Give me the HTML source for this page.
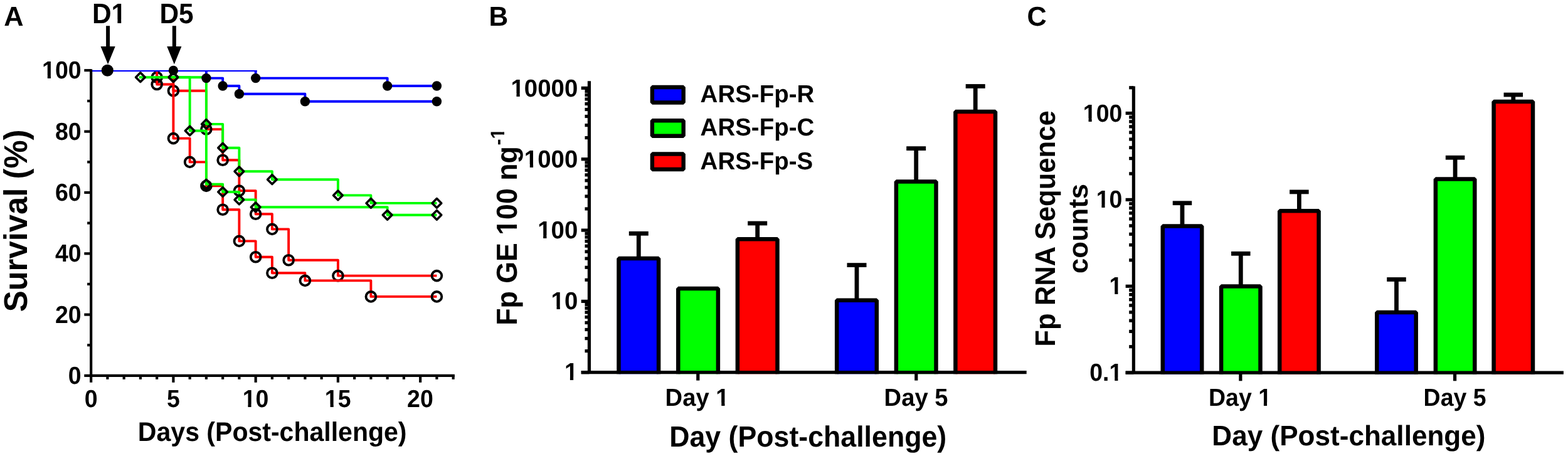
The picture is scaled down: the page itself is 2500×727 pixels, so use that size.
<!DOCTYPE html>
<html lang="en">
<head>
<meta charset="utf-8">
<title>Figure: survival curves and Fp load</title>
<style>
html,body{margin:0;padding:0;background:#fff;}
body{width:2500px;height:727px;overflow:hidden;}
svg{display:block;}
svg text{font-family:"Liberation Sans", sans-serif;font-weight:700;fill:#000;text-rendering:geometricPrecision;}
</style>
</head>
<body>
<svg width="2500" height="727" viewBox="0 0 2500 727">
<rect width="2500" height="727" fill="#fff"/>
<g id="panelA">
<clipPath id="clipA"><rect x="140" y="111.9" width="600" height="500"/></clipPath>
<g clip-path="url(#clipA)" fill="none" stroke-width="3.9" stroke-linejoin="round">
<path d="M250.15 112.15H250.15V123.2H276.4V144.8H328.9V206.1H355.15V255.2H381.4V304.1H407.65V341.3H433.9V365.4H460.15V414.8H538.9V439.6H696.4" stroke="#ff0000"/>
<circle cx="250.15" cy="123.2" r="7.9" stroke="#000" stroke-width="3.85"/>
<circle cx="276.4" cy="144.8" r="7.9" stroke="#000" stroke-width="3.85"/>
<circle cx="328.9" cy="206.1" r="7.9" stroke="#000" stroke-width="3.85"/>
<circle cx="355.15" cy="255.2" r="7.9" stroke="#000" stroke-width="3.85"/>
<circle cx="381.4" cy="304.1" r="7.9" stroke="#000" stroke-width="3.85"/>
<circle cx="407.65" cy="341.3" r="7.9" stroke="#000" stroke-width="3.85"/>
<circle cx="433.9" cy="365.4" r="7.9" stroke="#000" stroke-width="3.85"/>
<circle cx="460.15" cy="414.8" r="7.9" stroke="#000" stroke-width="3.85"/>
<circle cx="538.9" cy="439.6" r="7.9" stroke="#000" stroke-width="3.85"/>
<circle cx="696.4" cy="439.6" r="7.9" stroke="#000" stroke-width="3.85"/>
<path d="M250.15 112.15H250.15V134.5H276.4V220.6H302.65V258.4H328.9V296.4H355.15V334.2H381.4V384.4H407.65V409.8H433.9V435.3H486.4V447.4H591.4V472.9H696.4" stroke="#ff0000"/>
<circle cx="250.15" cy="134.5" r="7.9" stroke="#000" stroke-width="3.85"/>
<circle cx="276.4" cy="220.6" r="7.9" stroke="#000" stroke-width="3.85"/>
<circle cx="302.65" cy="258.4" r="7.9" stroke="#000" stroke-width="3.85"/>
<circle cx="328.9" cy="296.4" r="7.9" stroke="#000" stroke-width="3.85"/>
<circle cx="355.15" cy="334.2" r="7.9" stroke="#000" stroke-width="3.85"/>
<circle cx="381.4" cy="384.4" r="7.9" stroke="#000" stroke-width="3.85"/>
<circle cx="407.65" cy="409.8" r="7.9" stroke="#000" stroke-width="3.85"/>
<circle cx="433.9" cy="435.3" r="7.9" stroke="#000" stroke-width="3.85"/>
<circle cx="486.4" cy="447.4" r="7.9" stroke="#000" stroke-width="3.85"/>
<circle cx="591.4" cy="472.9" r="7.9" stroke="#000" stroke-width="3.85"/>
<circle cx="696.4" cy="472.9" r="7.9" stroke="#000" stroke-width="3.85"/>
<circle cx="328.9" cy="296.4" r="8" fill="#000" stroke="none"/>
<clipPath id="clipD"><path d="M328.9 288.7L333.9 293.7L328.9 298.7L323.9 293.7Z"/></clipPath>
<g clip-path="url(#clipD)"><rect x="320.9" y="285.7" width="16" height="16" fill="#fff" stroke="none"/><path d="M250.15 112.15H250.15V134.5H276.4V220.6H302.65V258.4H328.9V296.4H355.15V334.2H381.4V384.4H407.65V409.8H433.9V435.3H486.4V447.4H591.4V472.9H696.4" stroke="#ff0000"/></g>
<path d="M274.4 123.2H302.65V208.5H328.9V293.7H355.15V306.0H381.4V318.4H407.65V330.3H617.65V342.8H696.4" stroke="#00ff00"/>
<path d="M276.4 115.85000000000001L283.75 123.2L276.4 130.55L269.04999999999995 123.2Z" stroke="#000" stroke-width="3.6" stroke-linejoin="round"/>
<path d="M302.65 201.15L310.0 208.5L302.65 215.85L295.29999999999995 208.5Z" stroke="#000" stroke-width="3.6" stroke-linejoin="round"/>
<path d="M328.9 286.34999999999997L336.25 293.7L328.9 301.05L321.54999999999995 293.7Z" stroke="#000" stroke-width="3.6" stroke-linejoin="round"/>
<path d="M355.15 298.65L362.5 306.0L355.15 313.35L347.79999999999995 306.0Z" stroke="#000" stroke-width="3.6" stroke-linejoin="round"/>
<path d="M381.4 311.04999999999995L388.75 318.4L381.4 325.75L374.04999999999995 318.4Z" stroke="#000" stroke-width="3.6" stroke-linejoin="round"/>
<path d="M407.65 322.95L415.0 330.3L407.65 337.65000000000003L400.29999999999995 330.3Z" stroke="#000" stroke-width="3.6" stroke-linejoin="round"/>
<path d="M617.65 335.45L625.0 342.8L617.65 350.15000000000003L610.3 342.8Z" stroke="#000" stroke-width="3.6" stroke-linejoin="round"/>
<path d="M696.4 335.45L703.75 342.8L696.4 350.15000000000003L689.05 342.8Z" stroke="#000" stroke-width="3.6" stroke-linejoin="round"/>
<path d="M221.9 123.2H276.4H328.9V197.9H355.15V235.7H381.4V273.3H433.9V286.2H538.9V311.4H591.4V323.9H696.4" stroke="#00ff00"/>
<path d="M223.9 115.85000000000001L231.25 123.2L223.9 130.55L216.55 123.2Z" stroke="#000" stroke-width="3.6" stroke-linejoin="round"/>
<path d="M276.4 115.85000000000001L283.75 123.2L276.4 130.55L269.04999999999995 123.2Z" stroke="#000" stroke-width="3.6" stroke-linejoin="round"/>
<path d="M328.9 190.55L336.25 197.9L328.9 205.25L321.54999999999995 197.9Z" stroke="#000" stroke-width="3.6" stroke-linejoin="round"/>
<path d="M355.15 228.35L362.5 235.7L355.15 243.04999999999998L347.79999999999995 235.7Z" stroke="#000" stroke-width="3.6" stroke-linejoin="round"/>
<path d="M381.4 265.95L388.75 273.3L381.4 280.65000000000003L374.04999999999995 273.3Z" stroke="#000" stroke-width="3.6" stroke-linejoin="round"/>
<path d="M433.9 278.84999999999997L441.25 286.2L433.9 293.55L426.54999999999995 286.2Z" stroke="#000" stroke-width="3.6" stroke-linejoin="round"/>
<path d="M538.9 304.04999999999995L546.25 311.4L538.9 318.75L531.55 311.4Z" stroke="#000" stroke-width="3.6" stroke-linejoin="round"/>
<path d="M591.4 316.54999999999995L598.75 323.9L591.4 331.25L584.05 323.9Z" stroke="#000" stroke-width="3.6" stroke-linejoin="round"/>
<path d="M696.4 316.54999999999995L703.75 323.9L696.4 331.25L689.05 323.9Z" stroke="#000" stroke-width="3.6" stroke-linejoin="round"/>
<rect x="145.15" y="111.9" width="264.5" height="2.25" fill="#0000ff" stroke="none"/>
<path d="M407.65 112.15H407.65V124.6H617.65V137.0H696.4" stroke="#0000ff"/>
<path d="M328.9 112.15H328.9V124.6H355.15V137.0H381.4V149.7H486.4V161.8H696.4" stroke="#0000ff"/>
</g>
<circle cx="407.65" cy="124.6" r="7.7" fill="#000"/>
<circle cx="617.65" cy="137.0" r="7.7" fill="#000"/>
<circle cx="696.4" cy="137.0" r="7.7" fill="#000"/>
<circle cx="328.9" cy="124.6" r="7.7" fill="#000"/>
<circle cx="355.15" cy="137.0" r="7.7" fill="#000"/>
<circle cx="381.4" cy="149.7" r="7.7" fill="#000"/>
<circle cx="486.4" cy="161.8" r="7.7" fill="#000"/>
<circle cx="696.4" cy="161.8" r="7.7" fill="#000"/>
<circle cx="171.3" cy="112.3" r="9.55" fill="#000"/>
<circle cx="276.4" cy="112.5" r="7.7" fill="#000"/>
<g stroke="#000" stroke-width="4.17" fill="none">
<path d="M145.15 110.25V609.8"/>
<path d="M134.3 598.9H724.9"/>
<path d="M139.1 550.25H145.15"/>
<path d="M134.3 501.59H145.15"/>
<path d="M139.1 452.93H145.15"/>
<path d="M134.3 404.28H145.15"/>
<path d="M139.1 355.62H145.15"/>
<path d="M134.3 306.97H145.15"/>
<path d="M139.1 258.31H145.15"/>
<path d="M134.3 209.66H145.15"/>
<path d="M139.1 161.0H145.15"/>
<path d="M134.3 112.14999999999999H145.15"/>
<path d="M171.4 598.9V604.8"/>
<path d="M197.65 598.9V604.8"/>
<path d="M223.9 598.9V604.8"/>
<path d="M250.15 598.9V604.8"/>
<path d="M276.4 598.9V609.8"/>
<path d="M302.65 598.9V604.8"/>
<path d="M328.9 598.9V604.8"/>
<path d="M355.15 598.9V604.8"/>
<path d="M381.4 598.9V604.8"/>
<path d="M407.65 598.9V609.8"/>
<path d="M433.9 598.9V604.8"/>
<path d="M460.15 598.9V604.8"/>
<path d="M486.4 598.9V604.8"/>
<path d="M512.65 598.9V604.8"/>
<path d="M538.9 598.9V609.8"/>
<path d="M565.15 598.9V604.8"/>
<path d="M591.4 598.9V604.8"/>
<path d="M617.65 598.9V604.8"/>
<path d="M643.9 598.9V604.8"/>
<path d="M670.15 598.9V609.8"/>
<path d="M696.4 598.9V604.8"/>
<path d="M722.65 598.9V604.8"/>
</g>
<g transform="translate(129.6 612.3) scale(1.0 1.045)"><text font-size="37.5" text-anchor="end">0</text></g>
<g transform="translate(129.6 514.86) scale(1.0 1.045)"><text font-size="37.5" text-anchor="end">20</text></g>
<g transform="translate(129.6 417.42) scale(1.0 1.045)"><text font-size="37.5" text-anchor="end">40</text></g>
<g transform="translate(129.6 319.98) scale(1.0 1.045)"><text font-size="37.5" text-anchor="end">60</text></g>
<g transform="translate(129.6 222.54) scale(1.0 1.045)"><text font-size="37.5" text-anchor="end">80</text></g>
<g transform="translate(129.6 125.1) scale(1.0 1.045)"><text font-size="37.5" text-anchor="end">100</text><rect x="-61.82" y="-4.63" width="7.99" height="6.03" fill="#fff"/><rect x="-48.68" y="-4.63" width="7.51" height="6.03" fill="#fff"/></g>
<g transform="translate(145.1 649.3) scale(1.0 1.045)"><text font-size="37.5" text-anchor="middle">0</text></g>
<g transform="translate(276.3 649.3) scale(1.0 1.045)"><text font-size="37.5" text-anchor="middle">5</text></g>
<g transform="translate(407.5 649.3) scale(1.0 1.045)"><text font-size="37.5" text-anchor="middle">10</text><rect x="-20.10" y="-4.63" width="7.99" height="6.03" fill="#fff"/><rect x="-6.96" y="-4.63" width="7.51" height="6.03" fill="#fff"/></g>
<g transform="translate(538.7 649.3) scale(1.0 1.045)"><text font-size="37.5" text-anchor="middle">15</text><rect x="-20.10" y="-4.63" width="7.99" height="6.03" fill="#fff"/><rect x="-6.96" y="-4.63" width="7.51" height="6.03" fill="#fff"/></g>
<g transform="translate(669.9 649.3) scale(1.0 1.045)"><text font-size="37.5" text-anchor="middle">20</text></g>
<g transform="translate(434.2 702.8) scale(0.985 1.025)"><text font-size="41.67" text-anchor="middle">Days (Post-challenge)</text></g>
<g transform="translate(42.9 351.9) rotate(-90) scale(1.0 1.03)"><text font-size="50.8" text-anchor="middle">Survival (%)</text></g>
<g transform="translate(6.2 41.0) scale(1.04 1.043)"><text font-size="41.67">A</text></g>
<g transform="translate(174.0 37.0) scale(1.0 1.06)"><text font-size="42.4" text-anchor="middle">D1</text><rect x="4.58" y="-5.13" width="8.83" height="6.53" fill="#fff"/><rect x="19.22" y="-5.13" width="8.29" height="6.53" fill="#fff"/></g>
<g transform="translate(281.6 37.0) scale(1.0 1.06)"><text font-size="42.4" text-anchor="middle">D5</text></g>
<path d="M169.1 41.3H175.1V74H183.7L172.1 102.6L160.5 74H169.1Z" fill="#000"/>
<path d="M274.8 41.3H280.8V74H289.40000000000003L277.8 102.6L266.2 74H274.8Z" fill="#000"/>
</g>
<g id="panelB">
<path d="M1018.3 411.9V372.25" stroke="#000" stroke-width="6.8" fill="none"/>
<rect x="1002.8" y="368.85" width="31.0" height="6.8" fill="#000"/>
<path d="M986.5 596.3V411.9H1050.1V596.3" fill="#0000ff" stroke="#000" stroke-width="6.5" stroke-linejoin="bevel"/>
<path d="M1081.3 596.3V459.9H1144.9V596.3" fill="#00ff00" stroke="#000" stroke-width="6.5" stroke-linejoin="bevel"/>
<path d="M1207.7 381.3V356.0" stroke="#000" stroke-width="6.8" fill="none"/>
<rect x="1192.2" y="352.6" width="31.0" height="6.8" fill="#000"/>
<path d="M1175.9 596.3V381.3H1239.5V596.3" fill="#ff0000" stroke="#000" stroke-width="6.5" stroke-linejoin="bevel"/>
<path d="M1366.0 478.7V422.6" stroke="#000" stroke-width="6.8" fill="none"/>
<rect x="1350.5" y="419.2" width="31.0" height="6.8" fill="#000"/>
<path d="M1334.2 596.3V478.7H1397.8V596.3" fill="#0000ff" stroke="#000" stroke-width="6.5" stroke-linejoin="bevel"/>
<path d="M1460.7 289.5V236.65" stroke="#000" stroke-width="6.8" fill="none"/>
<rect x="1445.2" y="233.25" width="31.0" height="6.8" fill="#000"/>
<path d="M1428.9 596.3V289.5H1492.5V596.3" fill="#00ff00" stroke="#000" stroke-width="6.5" stroke-linejoin="bevel"/>
<path d="M1555.2 177.9V137.5" stroke="#000" stroke-width="6.8" fill="none"/>
<rect x="1539.7" y="134.1" width="31.0" height="6.8" fill="#000"/>
<path d="M1523.4 596.3V177.9H1587.0V596.3" fill="#ff0000" stroke="#000" stroke-width="6.5" stroke-linejoin="bevel"/>
<g stroke="#000" stroke-width="5.2" fill="none">
<path d="M939.45 129.3V593.7"/>
<path d="M926.7 593.7H1636.7"/>
<path d="M926.7 593.7H939.45"/>
<path d="M926.7 480.38H939.45"/>
<path d="M926.7 367.06H939.45"/>
<path d="M926.7 253.74H939.45"/>
<path d="M926.7 140.42H939.45"/>
<path d="M932.5 559.59H939.45"/>
<path d="M932.5 539.63H939.45"/>
<path d="M932.5 525.47H939.45"/>
<path d="M932.5 514.49H939.45"/>
<path d="M932.5 505.52H939.45"/>
<path d="M932.5 497.93H939.45"/>
<path d="M932.5 491.36H939.45"/>
<path d="M932.5 485.57H939.45"/>
<path d="M932.5 446.27H939.45"/>
<path d="M932.5 426.31H939.45"/>
<path d="M932.5 412.15H939.45"/>
<path d="M932.5 401.17H939.45"/>
<path d="M932.5 392.2H939.45"/>
<path d="M932.5 384.61H939.45"/>
<path d="M932.5 378.04H939.45"/>
<path d="M932.5 372.25H939.45"/>
<path d="M932.5 332.95H939.45"/>
<path d="M932.5 312.99H939.45"/>
<path d="M932.5 298.83H939.45"/>
<path d="M932.5 287.85H939.45"/>
<path d="M932.5 278.88H939.45"/>
<path d="M932.5 271.29H939.45"/>
<path d="M932.5 264.72H939.45"/>
<path d="M932.5 258.93H939.45"/>
<path d="M932.5 219.63H939.45"/>
<path d="M932.5 199.67H939.45"/>
<path d="M932.5 185.51H939.45"/>
<path d="M932.5 174.53H939.45"/>
<path d="M932.5 165.56H939.45"/>
<path d="M932.5 157.97H939.45"/>
<path d="M932.5 151.4H939.45"/>
<path d="M932.5 145.61H939.45"/>
<path d="M1112.8 593.7V606.6"/>
<path d="M1460.8 593.7V606.6"/>
</g>
</g>
<g transform="translate(921.3 606.3) scale(1.024 1.045)"><text font-size="37.5" text-anchor="end">1</text><rect x="-20.10" y="-4.63" width="7.99" height="6.03" fill="#fff"/><rect x="-6.96" y="-4.63" width="7.51" height="6.03" fill="#fff"/></g>
<g transform="translate(921.3 493.16) scale(1.024 1.045)"><text font-size="37.5" text-anchor="end">10</text><rect x="-40.96" y="-4.63" width="7.99" height="6.03" fill="#fff"/><rect x="-27.82" y="-4.63" width="7.51" height="6.03" fill="#fff"/></g>
<g transform="translate(921.3 380.01) scale(1.024 1.045)"><text font-size="37.5" text-anchor="end">100</text><rect x="-61.82" y="-4.63" width="7.99" height="6.03" fill="#fff"/><rect x="-48.68" y="-4.63" width="7.51" height="6.03" fill="#fff"/></g>
<g transform="translate(921.3 266.87) scale(1.024 1.045)"><text font-size="37.5" text-anchor="end">1000</text><rect x="-82.68" y="-4.63" width="7.99" height="6.03" fill="#fff"/><rect x="-69.54" y="-4.63" width="7.51" height="6.03" fill="#fff"/></g>
<g transform="translate(921.3 153.72) scale(1.024 1.045)"><text font-size="37.5" text-anchor="end">10000</text><rect x="-103.52" y="-4.63" width="7.99" height="6.03" fill="#fff"/><rect x="-90.38" y="-4.63" width="7.51" height="6.03" fill="#fff"/></g>
<g transform="translate(1111.6 647.0) scale(1.02 1.045)"><text font-size="37.5" text-anchor="middle">Day 1</text><rect x="29.93" y="-4.63" width="7.99" height="6.03" fill="#fff"/><rect x="43.06" y="-4.63" width="7.51" height="6.03" fill="#fff"/></g>
<g transform="translate(1460.6 647.0) scale(1.02 1.045)"><text font-size="37.5" text-anchor="middle">Day 5</text></g>
<g transform="translate(1288.2 712.0) scale(1.0 1.04)"><text font-size="44.7" text-anchor="middle">Day (Post-challenge)</text></g>
<g transform="translate(824 361.8) rotate(-90) scale(1 1.035)"><text font-size="44.7" text-anchor="middle">Fp GE 100 ng<tspan font-size="30" dy="-19.5" dx="1.6">-1</tspan></text><rect x="-11.73" y="-5.36" width="9.22" height="6.76" fill="#fff"/><rect x="3.63" y="-5.36" width="8.65" height="6.76" fill="#fff"/><rect x="140.51" y="-23.36" width="6.71" height="5.26" fill="#fff"/><rect x="151.34" y="-23.36" width="6.33" height="5.26" fill="#fff"/></g>
<g transform="translate(779.6 41.1) scale(1.02 1.043)"><text font-size="41.67">B</text></g>
<rect x="1039.9" y="139.05" width="49.8" height="24.5" fill="#0000ff" stroke="#000" stroke-width="6.4" stroke-linejoin="bevel"/>
<g transform="translate(1116.6 163.2) scale(1.026 1.045)"><text font-size="37.5">ARS-Fp-R</text></g>
<rect x="1039.9" y="192.25" width="49.8" height="24.5" fill="#00ff00" stroke="#000" stroke-width="6.4" stroke-linejoin="bevel"/>
<g transform="translate(1116.6 216.45) scale(1.026 1.045)"><text font-size="37.5">ARS-Fp-C</text></g>
<rect x="1039.9" y="245.45" width="49.8" height="24.5" fill="#ff0000" stroke="#000" stroke-width="6.4" stroke-linejoin="bevel"/>
<g transform="translate(1116.6 269.7) scale(1.026 1.045)"><text font-size="37.5">ARS-Fp-S</text></g>
<g id="panelC">
<path d="M1885.0 360.5V323.75" stroke="#000" stroke-width="6.8" fill="none"/>
<rect x="1869.75" y="320.35" width="30.5" height="6.8" fill="#000"/>
<path d="M1853.8 596.8V360.5H1916.2V596.8" fill="#0000ff" stroke="#000" stroke-width="6.5" stroke-linejoin="bevel"/>
<path d="M1978.3 456.5V404.3" stroke="#000" stroke-width="6.8" fill="none"/>
<rect x="1963.05" y="400.9" width="30.5" height="6.8" fill="#000"/>
<path d="M1947.1 596.8V456.5H2009.5V596.8" fill="#00ff00" stroke="#000" stroke-width="6.5" stroke-linejoin="bevel"/>
<path d="M2071.4 336.3V305.95" stroke="#000" stroke-width="6.8" fill="none"/>
<rect x="2056.15" y="302.55" width="30.5" height="6.8" fill="#000"/>
<path d="M2040.2 596.8V336.3H2102.6V596.8" fill="#ff0000" stroke="#000" stroke-width="6.5" stroke-linejoin="bevel"/>
<path d="M2226.5 498.1V445.5" stroke="#000" stroke-width="6.8" fill="none"/>
<rect x="2211.25" y="442.1" width="30.5" height="6.8" fill="#000"/>
<path d="M2195.3 596.8V498.1H2257.7V596.8" fill="#0000ff" stroke="#000" stroke-width="6.5" stroke-linejoin="bevel"/>
<path d="M2320.1 285.5V251.25" stroke="#000" stroke-width="6.8" fill="none"/>
<rect x="2304.85" y="247.85" width="30.5" height="6.8" fill="#000"/>
<path d="M2288.9 596.8V285.5H2351.3V596.8" fill="#00ff00" stroke="#000" stroke-width="6.5" stroke-linejoin="bevel"/>
<path d="M2412.8 161.9V151.05" stroke="#000" stroke-width="6.8" fill="none"/>
<rect x="2397.55" y="147.65" width="30.5" height="6.8" fill="#000"/>
<path d="M2381.6 596.8V161.9H2444.0V596.8" fill="#ff0000" stroke="#000" stroke-width="6.5" stroke-linejoin="bevel"/>
<g stroke="#000" stroke-width="5.2" fill="none">
<path d="M1807.4 137.45V594.2"/>
<path d="M1794.65 594.2H2492.9"/>
<path d="M1794.65 594.2H1807.4"/>
<path d="M1794.65 456.3H1807.4"/>
<path d="M1794.65 318.4H1807.4"/>
<path d="M1794.65 180.5H1807.4"/>
<path d="M1800.2 552.69H1807.4"/>
<path d="M1800.2 528.4H1807.4"/>
<path d="M1800.2 511.18H1807.4"/>
<path d="M1800.2 497.81H1807.4"/>
<path d="M1800.2 486.89H1807.4"/>
<path d="M1800.2 477.66H1807.4"/>
<path d="M1800.2 469.66H1807.4"/>
<path d="M1800.2 462.61H1807.4"/>
<path d="M1800.2 414.79H1807.4"/>
<path d="M1800.2 390.5H1807.4"/>
<path d="M1800.2 373.28H1807.4"/>
<path d="M1800.2 359.91H1807.4"/>
<path d="M1800.2 348.99H1807.4"/>
<path d="M1800.2 339.76H1807.4"/>
<path d="M1800.2 331.76H1807.4"/>
<path d="M1800.2 324.71H1807.4"/>
<path d="M1800.2 276.89H1807.4"/>
<path d="M1800.2 252.6H1807.4"/>
<path d="M1800.2 235.38H1807.4"/>
<path d="M1800.2 222.01H1807.4"/>
<path d="M1800.2 211.09H1807.4"/>
<path d="M1800.2 201.86H1807.4"/>
<path d="M1800.2 193.86H1807.4"/>
<path d="M1800.2 186.81H1807.4"/>
<path d="M1800.2 139.75H1807.4"/>
<path d="M1977.9 594.2V607.3"/>
<path d="M2319.6 594.2V607.3"/>
</g>
</g>
<g transform="translate(1789.4 607.25) scale(1.0 1.045)"><text font-size="37.5" text-anchor="end">0.1</text><rect x="-20.11" y="-4.63" width="7.99" height="6.03" fill="#fff"/><rect x="-6.98" y="-4.63" width="7.51" height="6.03" fill="#fff"/></g>
<g transform="translate(1789.4 469.35) scale(1.0 1.045)"><text font-size="37.5" text-anchor="end">1</text><rect x="-20.10" y="-4.63" width="7.99" height="6.03" fill="#fff"/><rect x="-6.96" y="-4.63" width="7.51" height="6.03" fill="#fff"/></g>
<g transform="translate(1789.4 331.45) scale(1.0 1.045)"><text font-size="37.5" text-anchor="end">10</text><rect x="-40.96" y="-4.63" width="7.99" height="6.03" fill="#fff"/><rect x="-27.82" y="-4.63" width="7.51" height="6.03" fill="#fff"/></g>
<g transform="translate(1789.4 193.55) scale(1.0 1.045)"><text font-size="37.5" text-anchor="end">100</text><rect x="-61.82" y="-4.63" width="7.99" height="6.03" fill="#fff"/><rect x="-48.68" y="-4.63" width="7.51" height="6.03" fill="#fff"/></g>
<g transform="translate(1977.0 646.5) scale(1.0 1.045)"><text font-size="37.5" text-anchor="middle">Day 1</text><rect x="29.93" y="-4.63" width="7.99" height="6.03" fill="#fff"/><rect x="43.06" y="-4.63" width="7.51" height="6.03" fill="#fff"/></g>
<g transform="translate(2319.6 646.5) scale(1.0 1.045)"><text font-size="37.5" text-anchor="middle">Day 5</text></g>
<g transform="translate(2150.4 709.9) scale(1.0 1.02)"><text font-size="44.1" text-anchor="middle">Day (Post-challenge)</text></g>
<g transform="translate(1681.8 364.5) rotate(-90) scale(1.0 1.035)"><text font-size="43.6" text-anchor="middle">Fp RNA Sequence</text></g>
<g transform="translate(1734.4 364.5) rotate(-90) scale(1.0 1.0)"><text font-size="43.6" text-anchor="middle">counts</text></g>
<g transform="translate(1637.6 41.2) scale(1.04 1.043)"><text font-size="41.67">C</text></g>
</svg>
</body>
</html>
